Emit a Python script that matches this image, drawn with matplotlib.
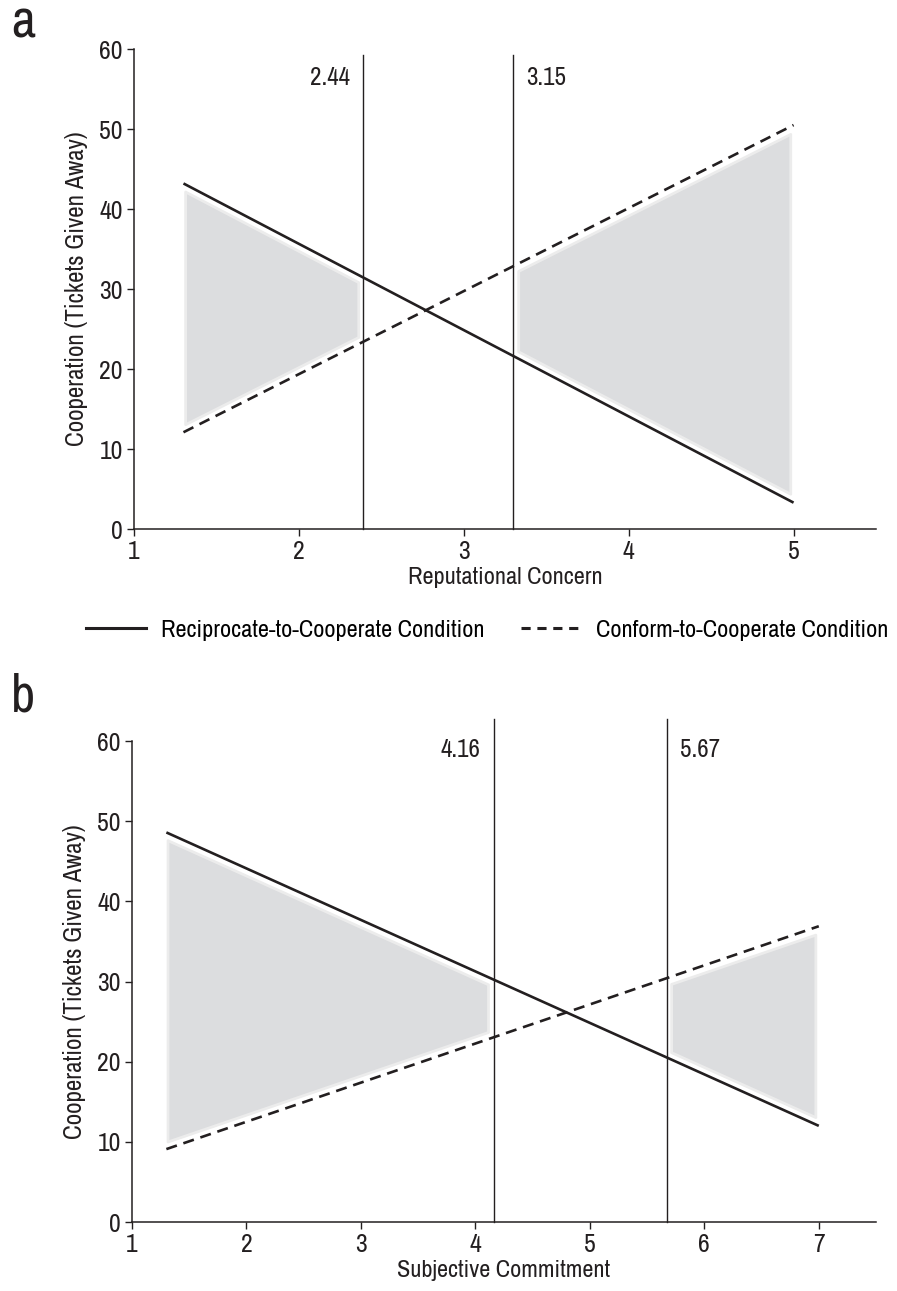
import numpy as np
import matplotlib.pyplot as plt
from matplotlib import font_manager

# prefer a condensed sans, like the original typeface
_names = sorted({f.name for f in font_manager.fontManager.ttflist})
_narrow = [n for n in _names if "Narrow" in n or "Condensed" in n]
plt.rcParams["font.family"] = _narrow[:1] + ["Liberation Sans", "DejaVu Sans"]

# panel a: reputational concern
a_x = [1.30, 5.00]
a_recip = [43.2, 3.3]
a_conform = [12.1, 50.5]
a_cut_pos = [2.39, 3.30]
a_cut_text = ["2.44", "3.15"]
a_shade = [(1.31, 2.36), (3.33, 4.98)]

# panel b: subjective commitment
b_x = [1.30, 7.00]
b_recip = [48.6, 12.0]
b_conform = [9.1, 36.9]
b_cut_pos = [4.16, 5.67]
b_cut_text = ["4.16", "5.67"]
b_shade = [(1.31, 4.11), (5.71, 6.97)]

INK = "#231f20"
SHADE = "#dcdddf"
FS = 17.5


def line_at(xs, ys, x):
    return np.interp(x, xs, ys)


def draw_panel(ax, xs, recip, conform, cuts, cut_text, shades, xmax, xlabel,
               cut_top, text_y):
    # shaded regions of significance, inset a little from the lines
    for lo, hi in shades:
        xx = np.linspace(lo, hi, 50)
        r = line_at(xs, recip, xx)
        c = line_at(xs, conform, xx)
        top = np.maximum(r, c) - 0.9
        bot = np.minimum(r, c) + 0.9
        ax.fill_between(xx, bot, top, facecolor=SHADE, edgecolor="#ececec",
                        linewidth=2, zorder=1)

    ax.plot(xs, recip, color=INK, lw=1.9, solid_capstyle="butt", zorder=3)
    ax.plot(xs, conform, color=INK, lw=1.9, dashes=(4.2, 2.6), zorder=3)

    off = 0.08 * (xmax - 1) / 4.5
    for i, (pos, txt) in enumerate(zip(cuts, cut_text)):
        ax.plot([pos, pos], [0, cut_top], color=INK, lw=1.0, clip_on=False,
                zorder=2)
        if i == 0:
            ax.text(pos - off, text_y, txt, ha="right", va="center",
                    fontsize=18, color=INK)
        else:
            ax.text(pos + off, text_y, txt, ha="left", va="center",
                    fontsize=18, color=INK)

    ax.set_xlim(1, xmax)
    ax.set_ylim(0, 60)
    ax.set_xticks(np.arange(1, int(xmax) + 1))
    ax.set_yticks(np.arange(0, 61, 10))
    ax.spines["top"].set_visible(False)
    ax.spines["right"].set_visible(False)
    for s in ("left", "bottom"):
        ax.spines[s].set_color(INK)
        ax.spines[s].set_linewidth(1.1)
    ax.tick_params(direction="out", length=5, width=1.0, colors=INK,
                   labelsize=18.5, pad=3)
    ax.set_xlabel(xlabel, fontsize=FS, color=INK, labelpad=3)
    ax.set_ylabel("Cooperation (Tickets Given Away)", fontsize=18, color=INK,
                  labelpad=8)


fig = plt.figure(figsize=(8.97, 12.91), dpi=100)
ax_a = fig.add_axes([0.1494, 0.5902, 0.8272, 0.3718])
ax_b = fig.add_axes([0.1472, 0.0534, 0.8294, 0.3726])

draw_panel(ax_a, a_x, a_recip, a_conform, a_cut_pos, a_cut_text, a_shade, 5.5,
           "Reputational Concern", 59.2, 56.5)
draw_panel(ax_b, b_x, b_recip, b_conform, b_cut_pos, b_cut_text, b_shade, 7.5,
           "Subjective Commitment", 62.7, 58.9)

fig.text(0.012, 0.971, "a", fontsize=38, color=INK, ha="left", va="baseline")
fig.text(0.012, 0.4485, "b", fontsize=38, color=INK, ha="left",
         va="baseline")

h1, = ax_a.plot([], [], color=INK, lw=2.2)
h2, = ax_a.plot([], [], color=INK, lw=2.2, dashes=(3.0, 2.2))
fig.legend([h1, h2], ["Reciprocate-to-Cooperate Condition",
                      "Conform-to-Cooperate Condition"],
           loc="center", bbox_to_anchor=(0.543, 0.512), ncol=2, frameon=False,
           fontsize=FS, handlelength=2.5, handletextpad=0.6, columnspacing=1.5)

fig.savefig("out.png", dpi=100)
